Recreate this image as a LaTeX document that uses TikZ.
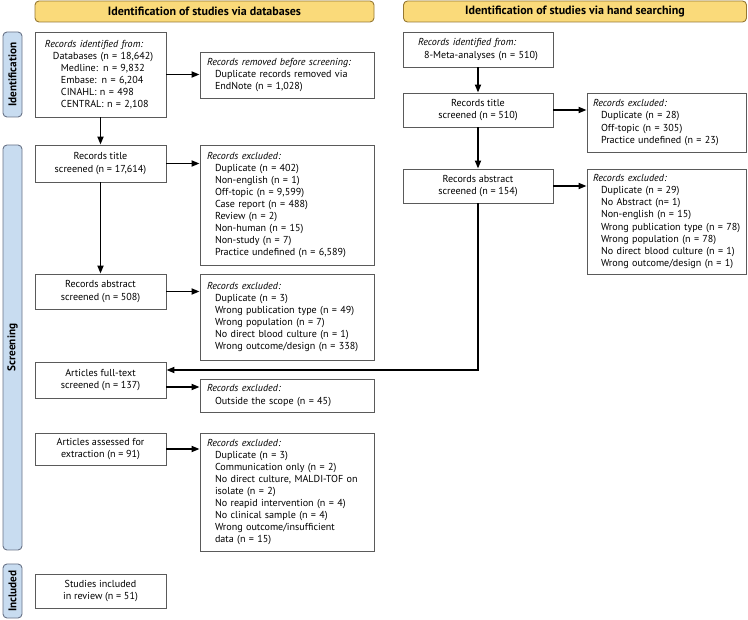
\documentclass[tikz,border=0pt]{standalone}
\usepackage{fontspec}
\setmainfont{PT Sans}
\usetikzlibrary{arrows.meta}
\definecolor{bannerfill}{RGB}{250,218,122}
\definecolor{bannerdraw}{RGB}{150,120,50}
\definecolor{sidefill}{RGB}{200,220,240}
\definecolor{sidedraw}{RGB}{105,115,135}
\definecolor{boxdraw}{RGB}{90,90,90}
\newcommand{\ii}{\hspace*{8pt}}
\begin{document}
\begin{tikzpicture}[x=1pt,y=-1pt,
  txt/.style={font=\fontsize{10.1}{12.1}\selectfont},
  box/.style={txt,draw=boxdraw,line width=0.9pt,fill=white,inner sep=0pt,align=center,minimum width=131pt},
  excl/.style={txt,draw=boxdraw,line width=0.9pt,fill=white,inner xsep=7pt,inner ysep=0pt,align=left,text width=160pt,minimum width=174pt},
  exclr/.style={excl,inner xsep=6pt,text width=147pt,minimum width=159pt},
  banner/.style={draw=bannerdraw,fill=bannerfill,line width=0.9pt,rounded corners=4pt,font=\fontsize{12}{13}\selectfont\bfseries,minimum height=21pt,inner sep=0pt},
  side/.style={draw=sidedraw,fill=sidefill,line width=0.9pt,rounded corners=4pt,font=\fontsize{11.2}{12}\selectfont\bfseries,minimum height=19pt,inner sep=0pt,rotate=90},
  arr/.style={line width=1.7pt,-{Triangle[length=8pt,width=6pt]}}
]
\useasboundingbox (0,0) rectangle (748,620);
% banners
\node[banner,minimum width=339pt] (b1) at (204.5,11.5) {Identification of studies via databases};
\node[banner,minimum width=343pt] (b2) at (575,11.5) {Identification of studies via hand searching};
% side labels
\node[side,minimum width=85pt] (s1) at (12.5,74.5) {Identification};
\node[side,minimum width=405pt] (s2) at (12.5,347.5) {Screening};
\node[side,minimum width=54pt] (s3) at (12.5,591) {Included};
% left column
\node[box,minimum height=85pt,align=left,text width=111pt,inner xsep=10pt] (li) at (100.5,74.5)
 {\textit{Records identified from:}\\\ii Databases (n = 18,642)\\\ii\ii Medline: n = 9,832\\\ii\ii Embase: n = 6,204\\\ii\ii CINAHL: n = 498\\\ii\ii CENTRAL: n = 2,108};
\node[excl,minimum height=46pt] (lr) at (287,75)
 {\textit{Records removed before screening:}\\\ii Duplicate records removed via\\\ii EndNote (n = 1,028)};
\node[box,minimum height=37pt] (lt) at (100.5,163.5) {Records title\\screened (n = 17,614)};
\node[excl,minimum height=120pt] (ltr) at (287,205)
 {\textit{Records excluded:}\\\ii Duplicate (n = 402)\\\ii Non-english (n = 1)\\\ii Off-topic (n = 9,599)\\\ii Case report (n = 488)\\\ii Review (n = 2)\\\ii Non-human (n = 15)\\\ii Non-study (n = 7)\\\ii Practice undefined (n = 6,589)};
\node[box,minimum height=35pt] (la) at (100.5,291.5) {Records abstract\\screened (n = 508)};
\node[excl,minimum height=86pt] (lar) at (287,317)
 {\textit{Records excluded:}\\\ii Duplicate (n = 3)\\\ii Wrong publication type (n = 49)\\\ii Wrong population (n = 7)\\\ii No direct blood culture (n = 1)\\\ii Wrong outcome/design (n = 338)};
\node[box,minimum height=36pt] (lf) at (100.5,380) {Articles full-text\\screened (n = 137)};
\node[excl,minimum height=33pt] (lfr) at (287,395.5)
 {\textit{Records excluded:}\\\ii Outside the scope (n = 45)};
\node[box,minimum height=32pt] (ls) at (100.5,449) {Articles assessed for\\extraction (n = 91)};
\node[excl,minimum height=118pt] (lsr) at (287,492)
 {\textit{Records excluded:}\\\ii Duplicate (n = 3)\\\ii Communication only (n = 2)\\\ii No direct culture, MALDI-TOF on\\\ii isolate (n = 2)\\\ii No reapid intervention (n = 4)\\\ii No clinical sample (n = 4)\\\ii Wrong outcome/insufficient\\\ii data (n = 15)};
\node[box,minimum height=34pt] (lin) at (100.5,591) {Studies included\\in review (n = 51)};
% right column
\node[box,minimum width=150pt,minimum height=35pt,align=left,text width=130pt,inner xsep=10pt] (ri) at (478,49.5)
 {\hspace*{5pt}\textit{Records identified from:}\\\hspace*{11pt}8-Meta-analyses (n = 510)};
\node[box,minimum width=150pt,minimum height=34pt] (rt) at (478,110) {Records title\\screened (n = 510)};
\node[exclr,minimum height=59pt] (rtr) at (666.5,122.5)
 {\textit{Records excluded:}\\\ii Duplicate (n = 28)\\\ii Off-topic (n = 305)\\\ii Practice undefined (n = 23)};
\node[box,minimum width=150pt,minimum height=34pt] (ra) at (478,186) {Records abstract\\screened (n = 154)};
\node[exclr,minimum height=105pt] (rar) at (666.5,221.5)
 {\textit{Records excluded:}\\\ii Duplicate (n = 29)\\\ii No Abstract (n= 1)\\\ii Non-english (n = 15)\\\ii \mbox{Wrong publication type (n = 78)}\\\ii Wrong population (n = 78)\\\ii No direct blood culture (n = 1)\\\ii Wrong outcome/design (n = 1)};
% connectors
\draw[arr] (li.east) -- (li.east -| lr.west);
\draw[arr] (li.south) -- (lt.north);
\draw[arr] (lt.east) -- (lt.east -| ltr.west);
\draw[arr] (lt.south) -- (la.north);
\draw[arr] (la.east) -- (la.east -| lar.west);
\draw[arr] ([yshift=-7pt]lf.east) -- ([yshift=-7pt]lf.east -| lfr.west);
\draw[arr] (ls.east) -- (ls.east -| lsr.west);
\draw[arr] (ri.south) -- (rt.north);
\draw[arr] (rt.east) -- (rt.east -| rtr.west);
\draw[arr] (rt.south) -- (ra.north);
\draw[arr] (ra.east) -- (ra.east -| rar.west);
\draw[arr] (ra.south) |- ([yshift=10pt]lf.east);
\end{tikzpicture}
\end{document}
